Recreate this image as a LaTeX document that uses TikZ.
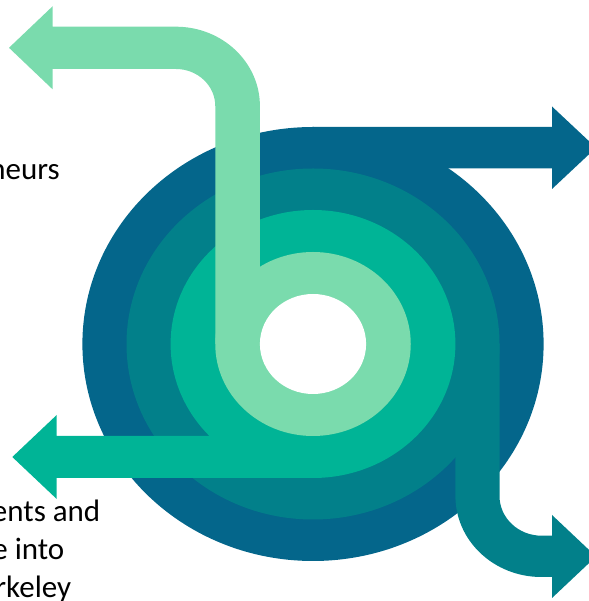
\documentclass[tikz,border=0pt]{standalone}
\usepackage{fontspec}
\setmainfont{Carlito}
\definecolor{dblue}{HTML}{04668B}
\definecolor{teal}{HTML}{02808A}
\definecolor{bteal}{HTML}{00B496}
\definecolor{lgreen}{HTML}{7ADBAD}
\begin{document}
\begin{tikzpicture}[x=1pt,y=1pt,
  lbl/.style={font=\fontsize{31}{38}\selectfont, inner sep=0pt, anchor=base east, text=black}]
\useasboundingbox (0,0) rectangle (588,601);
\coordinate (C) at (313,257);
% dark blue ring + arrow to the right
\fill[dblue] (C) ellipse[x radius=230.6, y radius=217];
\fill[dblue] (313,432.5) -- (552,432.5) -- (552,412) -- (596,453.25) -- (552,494.5) -- (552,474) -- (313,474) -- cycle;
% teal ring + arrow down-right
\fill[teal] (C) ellipse[x radius=186.5, y radius=175.5];
\fill[teal] (455.4,257) -- (455.4,105) arc[start angle=180, end angle=270, x radius=86, y radius=81]
  -- (552,24) -- (552,3) -- (596,44.5) -- (552,86) -- (552,65.3) -- (541.6,65.3)
  arc[start angle=270, end angle=180, x radius=42.1, y radius=39.7] -- (499.5,257) -- cycle;
% bright teal ring + arrow to the left
\fill[bteal] (C) ellipse[x radius=142.4, y radius=134];
\fill[bteal] (313,165) -- (56.7,165) -- (56.7,186) -- (12.3,144) -- (56.7,102) -- (56.7,123) -- (313,123) -- cycle;
% light green ring + arrow up-left
\fill[lgreen] (C) ellipse[x radius=97.75, y radius=92];
\fill[lgreen] (215.25,257) -- (215.25,495) arc[start angle=0, end angle=90, x radius=39.4, y radius=37]
  -- (52.7,532) -- (52.7,511.6) -- (9,553.2) -- (52.7,594.8) -- (52.7,574.3) -- (175.8,574.3)
  arc[start angle=90, end angle=0, x radius=84.1, y radius=79.3] -- (259.9,257) -- cycle;
% hole
\fill[white] (C) ellipse[x radius=53.1, y radius=50];
% texts
\node[lbl] (t1) at (60,421) {neurs};
\node[lbl] (t2) at (100.5,79) {ents and};
\node[lbl] (t3) at (64.5,41) {e into};
\node[lbl] (t4) at (71.3,3) {rkeley};
\end{tikzpicture}
\end{document}
